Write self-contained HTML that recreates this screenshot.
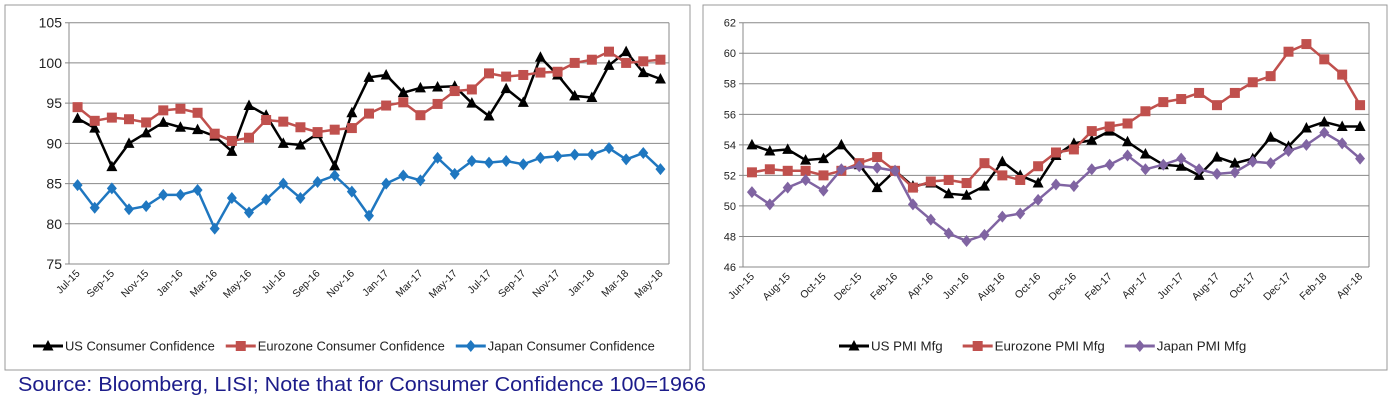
<!DOCTYPE html>
<html><head><meta charset="utf-8"><style>
body{margin:0;background:#fff;width:1399px;height:407px;overflow:hidden;font-family:"Liberation Sans",sans-serif}
svg{position:absolute;left:0;top:0}
</style></head><body>
<svg id="c" width="1399" height="407"></svg>
<script>
const leftCats=["Jul-15","Aug-15","Sep-15","Oct-15","Nov-15","Dec-15","Jan-16","Feb-16","Mar-16","Apr-16","May-16","Jun-16","Jul-16","Aug-16","Sep-16","Oct-16","Nov-16","Dec-16","Jan-17","Feb-17","Mar-17","Apr-17","May-17","Jun-17","Jul-17","Aug-17","Sep-17","Oct-17","Nov-17","Dec-17","Jan-18","Feb-18","Mar-18","Apr-18","May-18"];
const usCC=[93.1,91.9,87.1,90.0,91.3,92.6,92.0,91.7,90.9,89.0,94.7,93.5,90.0,89.8,91.2,87.2,93.8,98.2,98.5,96.3,96.9,97.0,97.1,95.0,93.4,96.8,95.1,100.7,98.5,95.9,95.7,99.7,101.4,98.8,98.0];
const euCC=[94.5,92.8,93.2,93.0,92.6,94.1,94.3,93.8,91.2,90.3,90.7,92.9,92.7,92.0,91.4,91.7,91.9,93.7,94.7,95.1,93.5,94.9,96.5,96.7,98.7,98.3,98.5,98.8,98.9,100.0,100.4,101.4,100.0,100.2,100.4];
const jpCC=[84.8,82.0,84.4,81.8,82.2,83.6,83.6,84.2,79.4,83.2,81.4,83.0,85.0,83.2,85.2,86.0,84.0,81.0,85.0,86.0,85.4,88.2,86.2,87.8,87.6,87.8,87.4,88.2,88.4,88.6,88.6,89.4,88.0,88.8,86.8];
const leftTicks=[75,80,85,90,95,100,105];
const rightCats=["Jun-15","Jul-15","Aug-15","Sep-15","Oct-15","Nov-15","Dec-15","Jan-16","Feb-16","Mar-16","Apr-16","May-16","Jun-16","Jul-16","Aug-16","Sep-16","Oct-16","Nov-16","Dec-16","Jan-17","Feb-17","Mar-17","Apr-17","May-17","Jun-17","Jul-17","Aug-17","Sep-17","Oct-17","Nov-17","Dec-17","Jan-18","Feb-18","Mar-18","Apr-18"];
const usPMI=[54.0,53.6,53.7,53.0,53.1,54.0,52.7,51.2,52.3,51.3,51.5,50.8,50.7,51.3,52.9,52.0,51.5,53.3,54.1,54.3,54.9,54.2,53.4,52.7,52.6,52.0,53.2,52.8,53.1,54.5,53.9,55.1,55.5,55.2,55.2];
const euPMI=[52.2,52.4,52.3,52.3,52.0,52.3,52.8,53.2,52.3,51.2,51.6,51.7,51.5,52.8,52.0,51.7,52.6,53.5,53.7,54.9,55.2,55.4,56.2,56.8,57.0,57.4,56.6,57.4,58.1,58.5,60.1,60.6,59.6,58.6,56.6];
const jpPMI=[50.9,50.1,51.2,51.7,51.0,52.4,52.6,52.5,52.3,50.1,49.1,48.2,47.7,48.1,49.3,49.5,50.4,51.4,51.3,52.4,52.7,53.3,52.4,52.7,53.1,52.4,52.1,52.2,52.9,52.8,53.6,54.0,54.8,54.1,53.1];
const rightTicks=[46,48,50,52,54,56,58,60,62];

const svg=document.getElementById('c');const NS="http://www.w3.org/2000/svg";
function mk(t,a,p){const e=document.createElementNS(NS,t);for(const k in a)e.setAttribute(k,a[k]);(p||svg).appendChild(e);return e;}
function marker(g,type,x,y,col){
 let e;
 if(type==='tri'){e=mk('polygon',{points:`${x},${y-6} ${x-5.5},${y+4.5} ${x+5.5},${y+4.5}`,fill:col},g);}
 else if(type==='sq'){e=mk('rect',{x:x-5,y:y-5,width:10,height:10,fill:col},g);}
 else {e=mk('polygon',{points:`${x},${y-6} ${x+5},${y} ${x},${y+6} ${x-5},${y}`,fill:col},g);}
 return e;
}
function chart(o){
 const box=mk('rect',{x:o.bx,y:5,width:o.bw,height:365,fill:'#fff',stroke:'#999','stroke-width':1});
 
 
 const n=o.cats.length, step=(o.x1-o.x0)/n;
 const X=i=>o.x0+step*(i+0.5);
 const Y=v=>o.y1-(v-o.min)/(o.max-o.min)*(o.y1-o.y0);
 o.ticks.forEach(t=>{
  const l=mk('line',{x1:o.x0-4,x2:o.x1,y1:Y(t),y2:Y(t),stroke:'#888','stroke-width':1});
  
  
  const tx=mk('text',{x:o.x0-7,y:Y(t)+o.tfs*0.36,'text-anchor':'end','font-size':o.tfs,fill:'#222'});
  tx.textContent=t;
  
  
 });
 mk('line',{x1:o.x0,x2:o.x0,y1:o.y0,y2:o.y1,stroke:'#888'});
 mk('line',{x1:o.x1,x2:o.x1,y1:o.y0,y2:o.y1,stroke:'#888'});
 o.cats.forEach((c,i)=>{
  if(i%2)return;
  const x=X(i)+3,y=o.y1+10;
  const tx=mk('text',{x:x,y:y,'text-anchor':'end','font-size':10.5,fill:'#222',transform:`rotate(-45 ${x} ${y})`});
  tx.textContent=c;
  
  
 });
 o.series.forEach(s=>{
  const g=mk('g',{});
  
  
  mk('polyline',{points:s.data.map((v,i)=>X(i)+','+Y(v)).join(' '),fill:'none',stroke:s.col,'stroke-width':2.5},g);
  s.data.forEach((v,i)=>{const m=marker(g,s.m,X(i),Y(v),s.col);
   
   });
 });
 let lx=o.legX;
 o.series.forEach(s=>{
  const g=mk('g',{});
  
  
  mk('line',{x1:lx,x2:lx+30,y1:346,y2:346,stroke:s.col,'stroke-width':3},g);
  marker(g,s.m,lx+15,346,s.col);
  const t=mk('text',{x:lx+32,y:350.5,'font-size':o.lfs,fill:'#222'},g);
  t.textContent=s.label;
  lx+=32+t.getComputedTextLength()+o.legGap;
 });
}
chart({name:'consumer-confidence',bx:5,bw:685,x0:69,x1:669,y0:22.7,y1:264,min:75,max:105,ticks:leftTicks,tfs:14,cats:leftCats,legX:33,legGap:11,lfs:12.9,
 series:[{id:'us-consumer-confidence',label:'US Consumer Confidence',data:usCC,col:'#000',m:'tri'},
 {id:'eurozone-consumer-confidence',label:'Eurozone Consumer Confidence',data:euCC,col:'#c0504d',m:'sq'},
 {id:'japan-consumer-confidence',label:'Japan Consumer Confidence',data:jpCC,col:'#1f77c0',m:'dia'}]});
chart({name:'pmi-manufacturing',bx:703,bw:684,x0:743,x1:1369,y0:22.7,y1:267,min:46,max:62,ticks:rightTicks,tfs:11,cats:rightCats,legX:839,legGap:20,lfs:13.3,
 series:[{id:'us-pmi',label:'US PMI Mfg',data:usPMI,col:'#000',m:'tri'},
 {id:'eurozone-pmi',label:'Eurozone PMI Mfg',data:euPMI,col:'#c0504d',m:'sq'},
 {id:'japan-pmi',label:'Japan PMI Mfg',data:jpPMI,col:'#8064a2',m:'dia'}]});
const src=mk('text',{x:18,y:391,'font-size':20,fill:'#1c1c8a',textLength:688,lengthAdjust:'spacingAndGlyphs'});
src.textContent='Source: Bloomberg, LISI; Note that for Consumer Confidence 100=1966';


</script>
</body></html>
